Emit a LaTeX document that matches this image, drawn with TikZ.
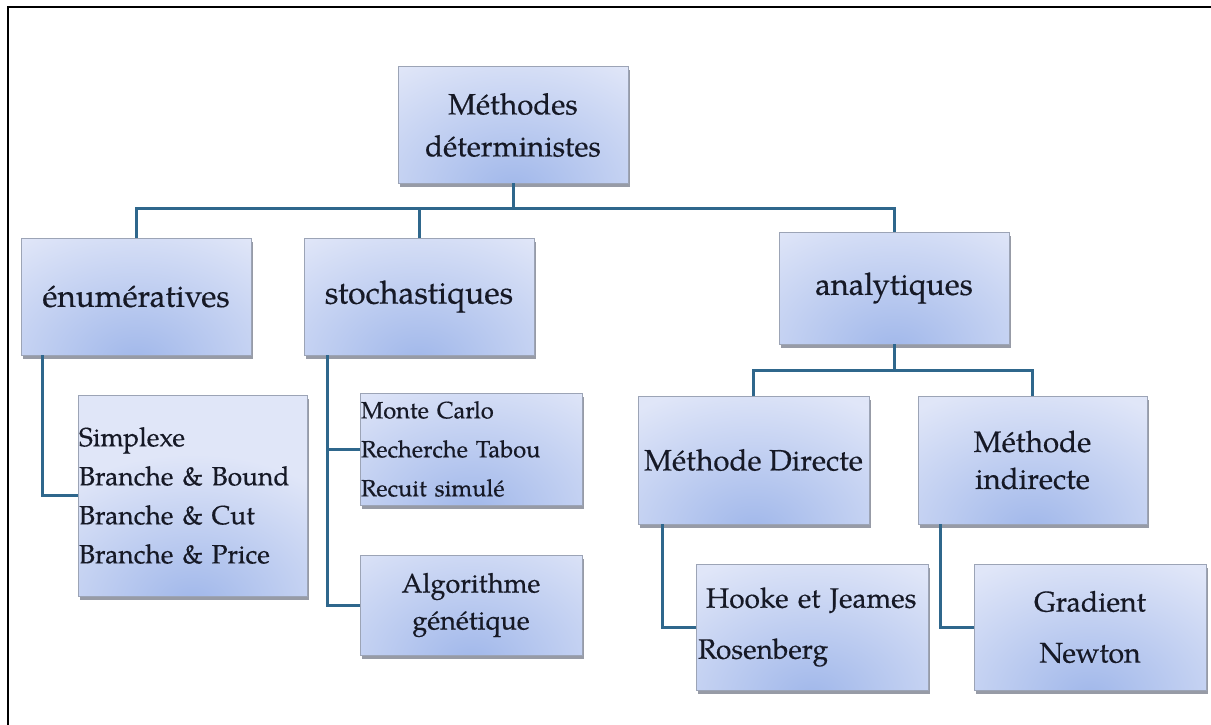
\documentclass[tikz,border=0pt]{standalone}
\usepackage{fontspec}
\setmainfont{texgyrepagella}[Extension=.otf, UprightFont=*-regular, BoldFont=*-bold, ItalicFont=*-italic, BoldItalicFont=*-bolditalic, FakeBold=0.4]
\usetikzlibrary{shadows,calc}

\definecolor{boxlight}{HTML}{E0E6F8}
\definecolor{boxspot}{HTML}{A0B7EA}
\definecolor{boxedge}{HTML}{9CA4B6}
\definecolor{shadowcol}{HTML}{5F6676}
\definecolor{linkcol}{HTML}{2F678C}
\definecolor{inkcol}{HTML}{161926}

\tikzset{
  box/.style={draw=boxedge, line width=1pt, inner sep=0pt, outer sep=0pt, text=inkcol,
    drop shadow={shadow xshift=1.5pt, shadow yshift=-3.5pt, fill=shadowcol, opacity=0.65},
    path picture={
      \fill[boxlight] (path picture bounding box.south west) rectangle (path picture bounding box.north east);
      \shade[inner color=boxspot, outer color=boxlight]
        ([yshift=-8pt]path picture bounding box.south) ellipse [x radius=200pt, y radius=150pt];
    }},
  link/.style={draw=linkcol, line width=3pt},
  fs/.style 2 args={font=\fontsize{#1}{#2}\selectfont},
}

\begin{document}
\begin{tikzpicture}[x=1pt, y=-1pt]
\useasboundingbox (0,0) rectangle (1211,725);

% outer frame (top and left edges)
\draw[black, line width=2.5pt] (8,725) -- (8,7) -- (1211,7);

% level 0
\node[box, minimum width=230pt, minimum height=116pt, fs={29.4}{42}, align=center] (root) at (513,125) {Méthodes\\déterministes};

% level 1
\node[box, minimum width=230pt, minimum height=117pt, fs={31.5}{38}] (enum) at (136,296.5) {énumératives};
\node[box, minimum width=230pt, minimum height=117pt, fs={32}{38}] (stoch) at (419,296.5) {stochastiques};
\node[box, minimum width=230pt, minimum height=112pt, fs={31}{38}] (ana) at (894,288) {analytiques};

% enumerative methods
\node[box, minimum width=229pt, minimum height=201pt, text width=227pt, inner xsep=1pt, align=left, fs={26.4}{39}] (enumlist) at (192.5,495.5)
  {Simplexe\\Branche \& Bound\\Branche \& Cut\\Branche \& Price};

% stochastic methods
\node[box, minimum width=222pt, minimum height=112pt, text width=220pt, inner xsep=1pt, align=left, fs={23.6}{39}] (mc) at (471,449)
  {Monte Carlo\\Recherche Tabou\\Recuit simulé};
\node[box, minimum width=222pt, minimum height=100pt, align=center, fs={27}{37}] (algo) at (471,605)
  {Algorithme\\génétique};

% analytic methods
\node[box, minimum width=231pt, minimum height=128pt, fs={29.5}{37}] (direct) at (753.5,460) {Méthode Directe};
\node[box, minimum width=229pt, minimum height=128pt, align=center, fs={29.5}{37}] (indirect) at (1032.5,460) {Méthode\\indirecte};
\node[box, minimum width=232pt, minimum height=126pt, text width=228pt, inner xsep=2pt, align=left, fs={28}{51}] (hooke) at (812,627)
  {\hspace*{8pt}Hooke et Jeames\\Rosenberg};
\node[box, minimum width=232pt, minimum height=126pt, align=center, fs={28.5}{51}] (grad) at (1090,627)
  {Gradient\\Newton};

% connectors
\coordinate (bus) at (0,208);
\coordinate (abus) at (0,370);
\draw[link] (root.south) -- (root.south |- bus);
\draw[link] (enum.north) |- (ana.north |- bus) -- (ana.north);
\draw[link] (stoch.north) -- (stoch.north |- bus);

\coordinate (estem) at ([xshift=21pt]enum.south west);
\draw[link] (estem) |- (enumlist.west);

\coordinate (sstem) at ([xshift=23pt]stoch.south west);
\draw[link] (sstem) |- (algo.west);
\draw[link] (sstem |- mc.west) -- (mc.west);

\draw[link] (ana.south) -- (ana.south |- abus);
\draw[link] (direct.north) |- (indirect.north |- abus) -- (indirect.north);

\coordinate (dstem) at ([xshift=24pt]direct.south west);
\draw[link] (dstem) |- (hooke.west);
\coordinate (istem) at ([xshift=22pt]indirect.south west);
\draw[link] (istem) |- (grad.west);
\end{tikzpicture}
\end{document}
